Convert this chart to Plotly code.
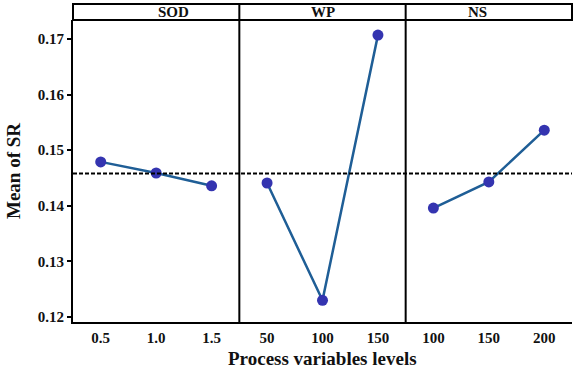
import plotly.graph_objects as go

# Data
sod_levels = ["0.5", "1.0", "1.5"]
sod_sr = [0.1479, 0.1459, 0.1436]
wp_levels = ["50", "100", "150"]
wp_sr = [0.1441, 0.1230, 0.1707]
ns_levels = ["100", "150", "200"]
ns_sr = [0.1396, 0.1443, 0.1536]
panel_names = ["SOD", "WP", "NS"]
grand_mean = 0.1458
y_ticks = [0.12, 0.13, 0.14, 0.15, 0.16, 0.17]

FONT = "Liberation Serif"
TXT = "#111"
LINE_COLOR = "#1f5e96"
MARKER_COLOR = "#3434b0"

fig = go.Figure()
panels = [(sod_levels, sod_sr), (wp_levels, wp_sr), (ns_levels, ns_sr)]
axis_ids = ["x", "x2", "x3"]
for (lv, sr), ax in zip(panels, axis_ids):
    fig.add_trace(go.Scatter(
        x=lv, y=sr, xaxis=ax, yaxis="y", mode="lines+markers",
        line=dict(color=LINE_COLOR, width=2.5),
        marker=dict(color=MARKER_COLOR, size=11),
        showlegend=False, cliponaxis=False))

tickfont = dict(family=FONT, size=15, color=TXT, weight="bold")
domains = [[0, 1/3], [1/3, 2/3], [2/3, 1]]
for i, (ax, (lv, _)) in enumerate(zip(axis_ids, panels)):
    key = "xaxis" if i == 0 else f"xaxis{i+1}"
    fig.layout[key] = dict(
        domain=domains[i], type="category", categoryorder="array",
        categoryarray=lv, range=[-0.5, 2.5], anchor="y",
        showgrid=False, zeroline=False, showline=True, linecolor="black",
        linewidth=2, ticks="", ticklabelstandoff=1,
        tickfont=tickfont, fixedrange=True)

fig.update_layout(
    yaxis=dict(range=[0.11910, 0.17342], tickvals=y_ticks,
               ticktext=[f"{v:.2f}" for v in y_ticks],
               showgrid=False, zeroline=False, showline=True,
               linecolor="black", linewidth=2, ticks="outside", ticklen=4,
               tickwidth=1.5, tickcolor="black", tickfont=tickfont,
               title=dict(text="Mean of SR", standoff=12,
                          font=dict(family=FONT, size=19, color=TXT, weight="bold")),
               anchor="x"),
    width=573, height=369,
    margin=dict(l=73, r=1, t=20, b=47),
    plot_bgcolor="white", paper_bgcolor="white",
)

# grand mean dotted line
fig.add_shape(type="line", xref="paper", yref="y", x0=0, x1=1,
              y0=grand_mean, y1=grand_mean,
              line=dict(color="black", width=2, dash="4px,2px"))

# panel dividers
for xd in [1/3, 2/3]:
    fig.add_shape(type="line", xref="paper", yref="paper", x0=xd, x1=xd,
                  y0=0, y1=1.053, line=dict(color="black", width=2))
# strip box
fig.add_shape(type="rect", xref="paper", yref="paper", x0=0, x1=1,
              y0=1, y1=1.053, line=dict(color="black", width=2),
              fillcolor="rgba(0,0,0,0)")

for i, name in enumerate(panel_names):
    fig.add_annotation(text=name, xref="paper", yref="paper",
                       x=(i + 0.5) / 3, y=1.0265, yanchor="middle",
                       showarrow=False,
                       font=dict(family=FONT, size=15, color=TXT, weight="bold"))

fig.add_annotation(text="Process variables levels", xref="paper", yref="paper",
                   x=0.5, y=-0.12, yanchor="middle", showarrow=False,
                   font=dict(family=FONT, size=19, color=TXT, weight="bold"))

fig.write_html("out.html")
